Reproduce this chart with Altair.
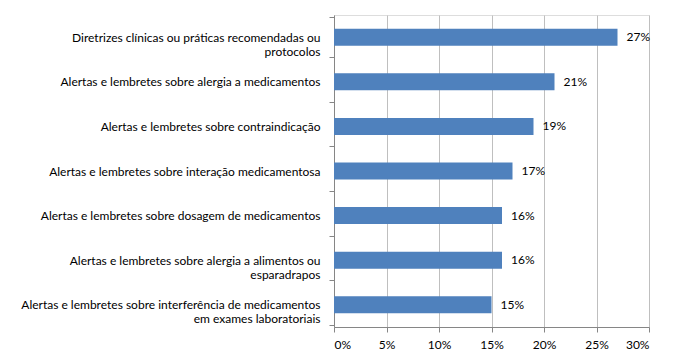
import altair as alt
import pandas as pd

categorias = [
    "Diretrizes clínicas ou práticas recomendadas ou|protocolos",
    "Alertas e lembretes sobre alergia a medicamentos",
    "Alertas e lembretes sobre contraindicação",
    "Alertas e lembretes sobre interação medicamentosa",
    "Alertas e lembretes sobre dosagem de medicamentos",
    "Alertas e lembretes sobre alergia a alimentos  ou|esparadrapos",
    "Alertas e lembretes sobre interferência de medicamentos|em exames laboratoriais",
]
valores = [27, 21, 19, 17, 16, 16, 15]
rotulos = [f"{v}%" for v in valores]

df = pd.DataFrame({"cat": categorias, "val": [v / 100 for v in valores], "rot": rotulos})

FONT = "Lato"
GRAY = "#868686"

y_enc = alt.Y(
    "cat:N",
    sort=categorias,
    title=None,
    axis=alt.Axis(
        labelExpr="split(datum.label, '|')",
        labelFont=FONT,
        labelFontSize=12,
        labelColor="#000000",
        labelLineHeight=14,
        labelPadding=9,
        labelLimit=400,
        tickBand="extent",
        tickSize=5,
        tickColor=GRAY,
        domainColor=GRAY,
        grid=False,
    ),
)

x_enc = alt.X(
    "val:Q",
    title=None,
    scale=alt.Scale(domain=[0, 0.30], nice=False),
    axis=alt.Axis(
        format=".0%",
        values=[0, 0.05, 0.10, 0.15, 0.20, 0.25, 0.30],
        labelFont=FONT,
        labelFontSize=12,
        labelColor="#000000",
        labelPadding=7,
        tickSize=5,
        tickColor=GRAY,
        domainColor=GRAY,
        grid=True,
        gridColor="#BFBFBF",
    ),
)

bars = alt.Chart(df).mark_bar(color="#4F81BD", size=17).encode(x=x_enc, y=y_enc)
text = alt.Chart(df).mark_text(
    align="left", baseline="middle", dx=9, font=FONT, fontSize=12, color="#000000"
).encode(x="val:Q", y=alt.Y("cat:N", sort=categorias), text="rot:N")

chart = (
    (bars + text)
    .properties(
        width=315,
        height=312,
        autosize=alt.AutoSizeParams(type="none"),
        padding={"left": 326, "top": 7, "right": 20, "bottom": 30},
    )
    .configure_view(stroke=None)
    .configure(background="#ffffff")
)

chart.save("out.html", embed_options={"renderer": "svg", "actions": False})
